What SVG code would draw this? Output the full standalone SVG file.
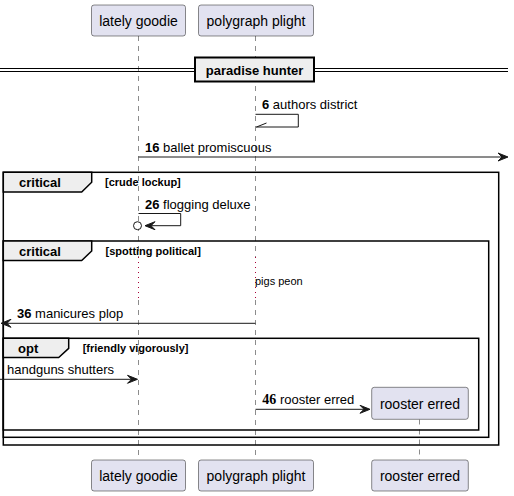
<svg xmlns="http://www.w3.org/2000/svg" width="514" height="496" viewBox="0 0 514 496">
<style>
.part{fill:#E2E2F0;stroke:#181818;stroke-width:0.5}
.pt{font-family:"Liberation Sans",Arial,sans-serif;font-size:14px;fill:#000;text-anchor:middle}
.life{stroke:#181818;stroke-width:0.5;stroke-dasharray:5,5;fill:none}
.dot{stroke:#A80036;stroke-width:1;stroke-dasharray:1,4;fill:none}
.msg{stroke:#181818;stroke-width:1;fill:none}
.head{fill:#181818;stroke:#181818;stroke-width:1}
.mt{font-family:"Liberation Sans",Arial,sans-serif;font-size:13px;fill:#000}
.num{font-weight:bold}
.frame{fill:none;stroke:#000;stroke-width:1.5}
.tab{fill:#EEEEEE;stroke:#000;stroke-width:1.5}
.gt{font-family:"Liberation Sans",Arial,sans-serif;font-size:13px;font-weight:bold;fill:#000}
.gc{font-family:"Liberation Sans",Arial,sans-serif;font-size:11px;font-weight:bold;fill:#000}
</style>
<g id="lifelines">
<line class="life" x1="138.5" y1="36" x2="138.5" y2="257"/>
<line class="dot" x1="138.5" y1="257" x2="138.5" y2="300"/>
<line class="life" x1="138.5" y1="300" x2="138.5" y2="460"/>
<line class="life" x1="255.5" y1="36" x2="255.5" y2="257"/>
<line class="dot" x1="255.5" y1="257" x2="255.5" y2="300"/>
<line class="life" x1="255.5" y1="300" x2="255.5" y2="460"/>
<line class="life" x1="419.5" y1="419.5" x2="419.5" y2="460"/>
</g>
<g id="divider">
<line x1="0" y1="68.5" x2="508" y2="68.5" stroke="#000" stroke-width="1"/>
<line x1="0" y1="71.5" x2="508" y2="71.5" stroke="#000" stroke-width="1"/>
<rect x="195" y="57.5" width="119" height="24" fill="#EEEEEE" stroke="#000" stroke-width="2"/>
<text class="gt" x="254.5" y="74.5" text-anchor="middle">paradise hunter</text>
</g>
<g id="group-critical-1">
<rect class="frame" x="3.3" y="172.3" width="495.4" height="272.7"/>
<polygon class="tab" points="3.3,172.3 91.7,172.3 91.7,182.3 81.7,192 3.3,192"/>
<text class="gt" x="19" y="186.5">critical</text>
<text class="gc" x="105" y="186">[crude lockup]</text>
</g>
<g id="group-critical-2">
<rect class="frame" x="3.3" y="241" width="485.4" height="196.3"/>
<polygon class="tab" points="3.3,241 91.7,241 91.7,251 81.7,260.5 3.3,260.5"/>
<text class="gt" x="19" y="255.5">critical</text>
<text class="gc" x="105.5" y="255">[spotting political]</text>
</g>
<g id="group-opt">
<rect class="frame" x="3.3" y="338.3" width="475.4" height="91.7"/>
<polygon class="tab" points="3.3,338.3 68.7,338.3 68.7,348.3 58.7,357.5 3.3,357.5"/>
<text class="gt" x="18" y="352.5">opt</text>
<text class="gc" x="82.7" y="352">[friendly vigorously]</text>
</g>
<g id="connectors">
<polyline class="msg" points="255.5,114.3 298.3,114.3 298.3,127 256,127"/>
<line class="msg" x1="256.5" y1="127" x2="266.5" y2="123"/>
<text class="mt" x="262" y="108.5"><tspan class="num">6</tspan> authors district</text>
<line class="msg" x1="138.5" y1="157" x2="506" y2="157"/>
<polygon class="head" points="498,153 508,157 498,161 502,157"/>
<text class="mt" x="145" y="152"><tspan class="num">16</tspan> ballet promiscuous</text>
<polyline class="msg" points="138.5,213.5 180.7,213.5 180.7,225.7 146,225.7"/>
<polygon class="head" points="155,221.7 145,225.7 155,229.7 151,225.7"/>
<circle cx="137.5" cy="225.7" r="4" fill="#fff" stroke="#181818" stroke-width="1"/>
<text class="mt" x="145" y="208.5"><tspan class="num">26</tspan> flogging deluxe</text>
<text x="255" y="285" font-family="Liberation Sans,Arial,sans-serif" font-size="11" fill="#000">pigs peon</text>
<line class="msg" x1="255.5" y1="323.3" x2="3" y2="323.3"/>
<polygon class="head" points="1,323.3 11,319.3 7,323.3 11,327.3"/>
<text class="mt" x="17" y="318.3"><tspan class="num">36</tspan> manicures plop</text>
<line class="msg" x1="0" y1="379.3" x2="136" y2="379.3"/>
<polygon class="head" points="127.5,375.3 137.5,379.3 127.5,383.3 131.5,379.3"/>
<text class="mt" x="7" y="374.3">handguns shutters</text>
<line class="msg" x1="255.5" y1="409.3" x2="368" y2="409.3"/>
<polygon class="head" points="360,405.3 370,409.3 360,413.3 364,409.3"/>
<text class="mt" x="262.3" y="404.3"><tspan font-family="Liberation Serif,'Times New Roman',serif" font-weight="bold" font-size="14">46</tspan> rooster erred</text>
</g>
<g id="p-lately-goodie">
<rect class="part" x="91.5" y="5" width="94" height="31" rx="2.5"/>
<text class="pt" x="138.5" y="25.5">lately goodie</text>
<rect class="part" x="91.5" y="460" width="94" height="31" rx="2.5"/>
<text class="pt" x="138.5" y="480.5">lately goodie</text>
</g>
<g id="p-polygraph-plight">
<rect class="part" x="198.5" y="5" width="115" height="31" rx="2.5"/>
<text class="pt" x="256" y="25.5">polygraph plight</text>
<rect class="part" x="198.5" y="460" width="115" height="31" rx="2.5"/>
<text class="pt" x="256" y="480.5">polygraph plight</text>
</g>
<g id="p-rooster-erred">
<rect class="part" x="371.7" y="387.3" width="96.6" height="32" rx="2.5"/>
<text class="pt" x="420" y="408.5">rooster erred</text>
<rect class="part" x="371.7" y="460" width="96.6" height="31" rx="2.5"/>
<text class="pt" x="420" y="480.5">rooster erred</text>
</g>
</svg>
